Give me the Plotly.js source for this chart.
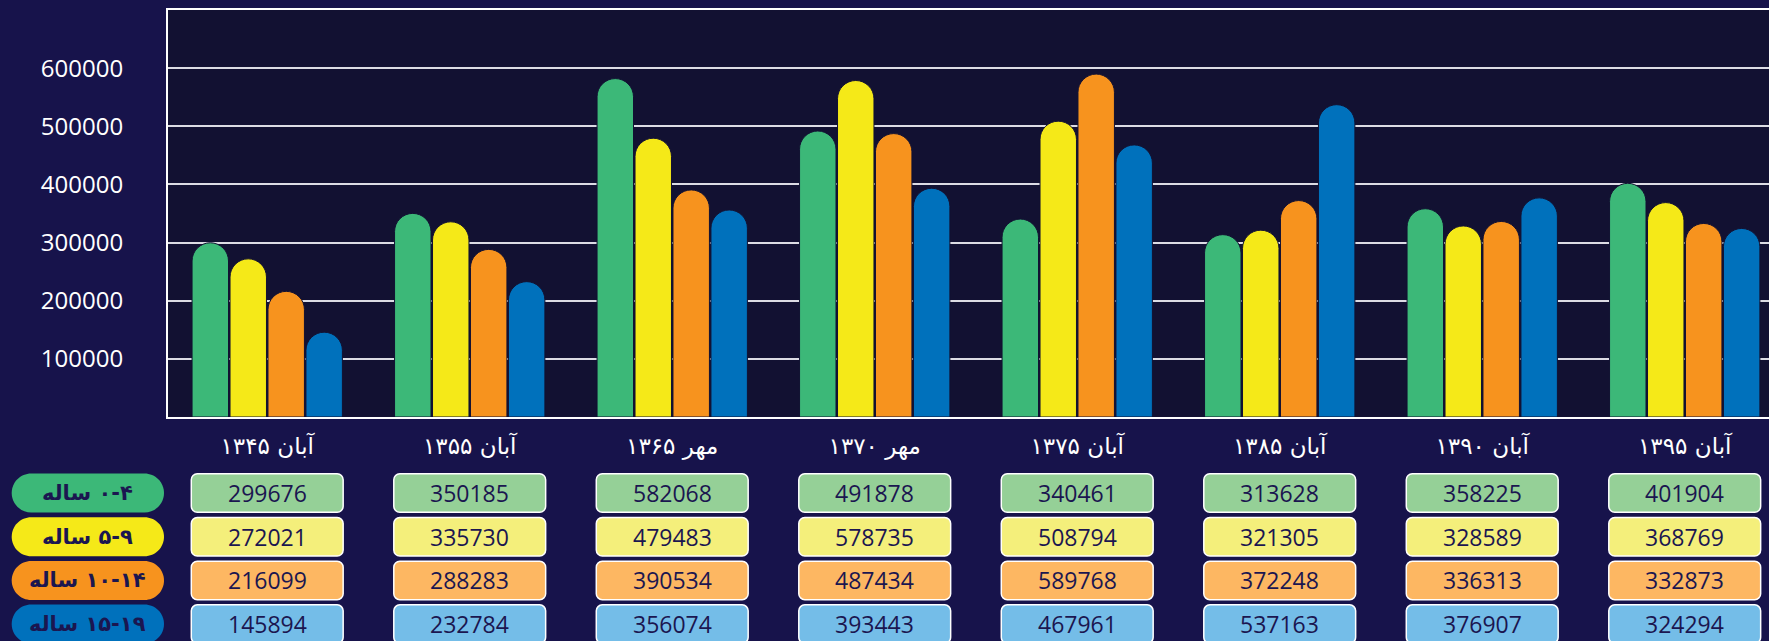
<!DOCTYPE html>
<html>
<head>
<meta charset="utf-8">
<script src="https://cdn.plot.ly/plotly-3.0.1.min.js"></script>
<style>
html, body { margin: 0; padding: 0; overflow: hidden; background: #17134B; }
#chart { width: 1788px; height: 641px; }
</style>
</head>
<body>
<div id="chart"></div>
<script>
// ---- data ----
const categories = ['آبان ۱۳۴۵', 'آبان ۱۳۵۵', 'مهر ۱۳۶۵', 'مهر ۱۳۷۰', 'آبان ۱۳۷۵', 'آبان ۱۳۸۵', 'آبان ۱۳۹۰', 'آبان ۱۳۹۵'];
const seriesNames = ['۰-۴ ساله', '۵-۹ ساله', '۱۰-۱۴ ساله', '۱۵-۱۹ ساله'];
const age0to4   = [299676, 350185, 582068, 491878, 340461, 313628, 358225, 401904];
const age5to9   = [272021, 335730, 479483, 578735, 508794, 321305, 328589, 368769];
const age10to14 = [216099, 288283, 390534, 487434, 589768, 372248, 336313, 332873];
const age15to19 = [145894, 232784, 356074, 393443, 467961, 537163, 376907, 324294];
const yTicks = [100000, 200000, 300000, 400000, 500000, 600000];

// ---- styles ----
const seriesValues = [age0to4, age5to9, age10to14, age15to19];
const barColors  = ['#3CB878', '#F5E918', '#F7931E', '#0071BC'];
const cellColors = ['#95D097', '#F4EF7B', '#FDB762', '#74BDE8'];
const PAPER_BG = '#17134B';
const PLOT_BG = '#121132';
const TEXT_DARK = '#1B1650';

const W = 1788, H = 641;
const M = {l: 168, r: 0, t: 10, b: 224};
const plotW = W - M.l - M.r;
const plotH = H - M.t - M.b;
const plotBottom = H - M.b;
const xRange = [-0.49, 7.51];
const unitPx = plotW / (xRange[1] - xRange[0]);

// table geometry (pixels)
const rowCenters0 = 493, rowStep = 43.7;
const cellH = 38.5, cellHalfW = 0.375; // cellHalfW in category units
const pillX0 = 11.7, pillX1 = 164, pillH = 39;

const py2paper = py => (plotBottom - py) / plotH;
const px2paper = px => (px - M.l) / plotW;
const f = v => v.toFixed(5);

function roundRect(x0, x1, y0, y1, rx, ry) {
  const k = 0.5523;
  return 'M' + f(x0 + rx) + ',' + f(y0) +
    ' L' + f(x1 - rx) + ',' + f(y0) +
    ' C' + f(x1 - rx + k * rx) + ',' + f(y0) + ' ' + f(x1) + ',' + f(y0 + ry - k * ry) + ' ' + f(x1) + ',' + f(y0 + ry) +
    ' L' + f(x1) + ',' + f(y1 - ry) +
    ' C' + f(x1) + ',' + f(y1 - ry + k * ry) + ' ' + f(x1 - rx + k * rx) + ',' + f(y1) + ' ' + f(x1 - rx) + ',' + f(y1) +
    ' L' + f(x0 + rx) + ',' + f(y1) +
    ' C' + f(x0 + rx - k * rx) + ',' + f(y1) + ' ' + f(x0) + ',' + f(y1 - ry + k * ry) + ' ' + f(x0) + ',' + f(y1 - ry) +
    ' L' + f(x0) + ',' + f(y0 + ry) +
    ' C' + f(x0) + ',' + f(y0 + ry - k * ry) + ' ' + f(x0 + rx - k * rx) + ',' + f(y0) + ' ' + f(x0 + rx) + ',' + f(y0) + ' Z';
}

const traces = seriesValues.map((vals, s) => ({
  type: 'bar',
  name: seriesNames[s],
  x: categories,
  y: vals,
  marker: {color: barColors[s], cornerradius: '50%', line: {color: PLOT_BG, width: 1}},
  hoverinfo: 'x+y+name'
}));

const shapes = [];
const annotations = [];
seriesValues.forEach((vals, s) => {
  const cy = rowCenters0 + s * rowStep;
  const y0 = py2paper(cy + cellH / 2), y1 = py2paper(cy - cellH / 2);
  // legend pill
  const pH = pillH / plotH;
  const py0 = py2paper(cy + pillH / 2), py1 = py2paper(cy - pillH / 2);
  shapes.push({
    type: 'path', xref: 'paper', yref: 'paper', layer: 'above',
    path: roundRect(px2paper(pillX0), px2paper(pillX1), py0, py1, (pillH / 2) / plotW, pH / 2),
    fillcolor: barColors[s], line: {width: 0}
  });
  annotations.push({
    xref: 'paper', yref: 'paper', x: px2paper((pillX0 + pillX1) / 2), y: py2paper(cy),
    xanchor: 'center', yanchor: 'middle', showarrow: false,
    text: '\u202B' + seriesNames[s] + '\u202C',
    font: {family: 'DejaVu Sans', size: 21, color: TEXT_DARK, weight: 'bold'}
  });
  // value cells
  vals.forEach((v, i) => {
    shapes.push({
      type: 'path', xref: 'x', yref: 'paper', layer: 'above',
      path: roundRect(i - cellHalfW, i + cellHalfW, y0, y1, 6 / unitPx, 6 / plotH),
      fillcolor: cellColors[s], line: {color: '#FFFFFF', width: 1.5}
    });
    annotations.push({
      xref: 'x', yref: 'paper', x: i, y: py2paper(cy),
      xanchor: 'center', yanchor: 'middle', showarrow: false,
      text: String(v),
      font: {family: 'Open Sans', size: 23, color: TEXT_DARK, weight: 500}
    });
  });
});

const layout = {
  width: W, height: H,
  margin: M,
  paper_bgcolor: PAPER_BG,
  plot_bgcolor: PLOT_BG,
  showlegend: false,
  barmode: 'group',
  bargap: 0.25,
  bargroupgap: 0.04,
  xaxis: {
    type: 'category',
    range: xRange,
    showgrid: false,
    showline: true, mirror: true, linecolor: '#FFFFFF', linewidth: 2,
    ticks: 'outside', ticklen: 7, tickcolor: 'rgba(0,0,0,0)',
    tickfont: {family: 'DejaVu Sans', size: 23, color: '#FFFFFF'},
    layer: 'below traces',
    fixedrange: true
  },
  yaxis: {
    range: [0, 700000],
    tickvals: yTicks,
    ticktext: yTicks.map(String),
    showgrid: true, gridcolor: '#DCDCE4', gridwidth: 2,
    zeroline: false,
    showline: true, mirror: true, linecolor: '#FFFFFF', linewidth: 2,
    ticks: 'outside', ticklen: 38, tickcolor: 'rgba(0,0,0,0)',
    tickfont: {family: 'Open Sans', size: 24, color: '#FFFFFF', weight: 500},
    layer: 'below traces',
    fixedrange: true
  },
  shapes: shapes,
  annotations: annotations
};

Plotly.newPlot('chart', traces, layout, {displayModeBar: false, staticPlot: true});
</script>
</body>
</html>
